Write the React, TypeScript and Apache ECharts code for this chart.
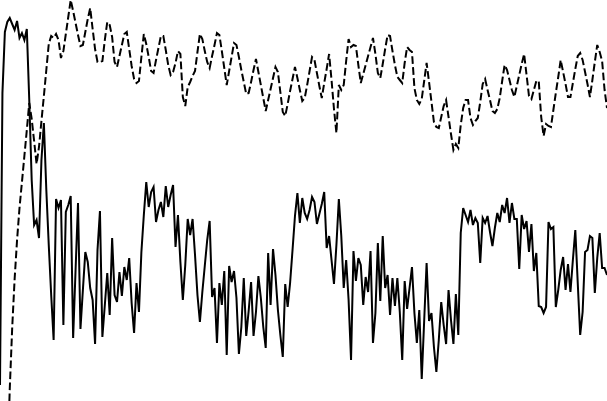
import React, { useEffect, useRef } from "react";
import * as echarts from "echarts";

// Solid series (arbitrary units, 250 samples)
const solidValues: number[] = [
  15, 307, 368, 378, 382, 376, 370, 379, 362, 367, 360, 371, 300, 220, 175, 180, 162, 240, 277, 210,
  155, 105, 60, 201, 192, 200, 75, 188, 195, 204, 62, 130, 197, 71, 110, 148, 138, 112, 100, 56,
  150, 189, 63, 95, 127, 85, 162, 105, 98, 128, 104, 133, 120, 142, 97, 67, 117, 88, 148, 185,
  218, 193, 208, 213, 178, 190, 198, 183, 214, 193, 205, 215, 153, 185, 138, 100, 135, 181, 165, 181,
  145, 105, 78, 108, 134, 160, 179, 103, 112, 57, 117, 95, 129, 45, 134, 118, 129, 102, 46, 73,
  122, 64, 89, 118, 64, 88, 124, 102, 73, 52, 147, 95, 151, 125, 90, 65, 43, 116, 93, 117,
  150, 184, 207, 177, 202, 187, 181, 190, 203, 198, 176, 186, 196, 208, 152, 164, 140, 116, 155, 201,
  164, 112, 140, 100, 40, 149, 119, 142, 135, 95, 123, 108, 149, 57, 87, 157, 99, 164, 112, 125,
  85, 122, 94, 122, 88, 40, 119, 91, 112, 133, 87, 57, 90, 21, 79, 137, 79, 87, 53, 28,
  60, 98, 75, 56, 110, 80, 56, 106, 65, 167, 192, 185, 178, 190, 175, 182, 177, 137, 182, 177,
  184, 168, 154, 172, 187, 178, 195, 187, 202, 177, 197, 181, 181, 131, 185, 171, 179, 148, 176, 129,
  147, 94, 93, 87, 93, 178, 171, 173, 93, 110, 130, 143, 110, 136, 108, 140, 170, 117, 65, 88,
  148, 150, 164, 162, 107, 142, 167, 132, 132, 125,
];

// Dashed series (arbitrary units, 250 samples)
const dashedValues: number[] = [
  -320, -230, -150, -70, 11, 72, 121, 160, 192, 218, 244, 270, 297, 281, 259, 236, 253, 279, 304, 330,
  356, 364, 362, 366, 360, 342, 349, 366, 383, 400, 389, 377, 365, 354, 355, 368, 381, 392, 371, 351,
  338, 338, 339, 360, 378, 375, 363, 338, 333, 344, 355, 366, 368, 351, 334, 321, 317, 319, 343, 366,
  356, 343, 329, 327, 340, 352, 364, 364, 350, 335, 325, 328, 337, 349, 346, 303, 294, 313, 318, 324,
  329, 348, 366, 361, 349, 338, 332, 344, 355, 367, 365, 349, 332, 315, 329, 343, 357, 355, 343, 330,
  318, 306, 307, 318, 330, 341, 328, 315, 302, 289, 300, 311, 322, 333, 328, 308, 288, 284, 296, 309,
  321, 333, 322, 310, 299, 302, 315, 329, 343, 340, 327, 314, 302, 317, 331, 346, 320, 291, 267, 315,
  310, 315, 339, 361, 353, 355, 354, 335, 317, 326, 335, 344, 353, 362, 346, 327, 322, 336, 351, 365,
  364, 349, 335, 323, 320, 317, 337, 353, 350, 348, 312, 300, 296, 301, 319, 337, 318, 298, 278, 273,
  272, 283, 294, 300, 283, 266, 250, 256, 252, 275, 292, 300, 300, 282, 275, 279, 282, 298, 316, 321,
  310, 300, 289, 287, 291, 302, 319, 335, 330, 320, 310, 303, 314, 325, 336, 346, 325, 304, 301, 310,
  319, 319, 283, 264, 276, 274, 273, 290, 307, 323, 340, 328, 316, 303, 303, 317, 331, 344, 347, 340,
  328, 316, 303, 320, 338, 355, 348, 339, 310, 292,
];

const categories: string[] = solidValues.map((_, i) => String(i));

const Y_MIN = -1;
const Y_MAX = 400;

export default function App() {
  const ref = useRef<HTMLDivElement>(null);

  useEffect(() => {
    if (!ref.current) return;
    const chart = echarts.init(ref.current, undefined, { renderer: "svg" });
    chart.setOption({
      animation: false,
      backgroundColor: "#ffffff",
      grid: { left: 0, right: 0, top: 0, bottom: 0, containLabel: false },
      xAxis: {
        type: "category",
        data: categories,
        boundaryGap: false,
        show: false,
      },
      yAxis: {
        type: "value",
        min: Y_MIN,
        max: Y_MAX,
        show: false,
        splitLine: { show: false },
      },
      series: [
        {
          name: "solid",
          type: "line",
          data: solidValues,
          symbol: "none",
          clip: true,
          lineStyle: { color: "#000000", width: 2, type: "solid", join: "miter" },
        },
        {
          name: "dashed",
          type: "line",
          data: dashedValues,
          symbol: "none",
          clip: true,
          lineStyle: { color: "#000000", width: 2, type: [7.7, 3.3], join: "miter" },
        },
      ],
    });
    return () => chart.dispose();
  }, []);

  return (
    <div
      ref={ref}
      style={{ position: "fixed", left: 0, top: 0, width: 607, height: 401, background: "#fff" }}
    />
  );
}
